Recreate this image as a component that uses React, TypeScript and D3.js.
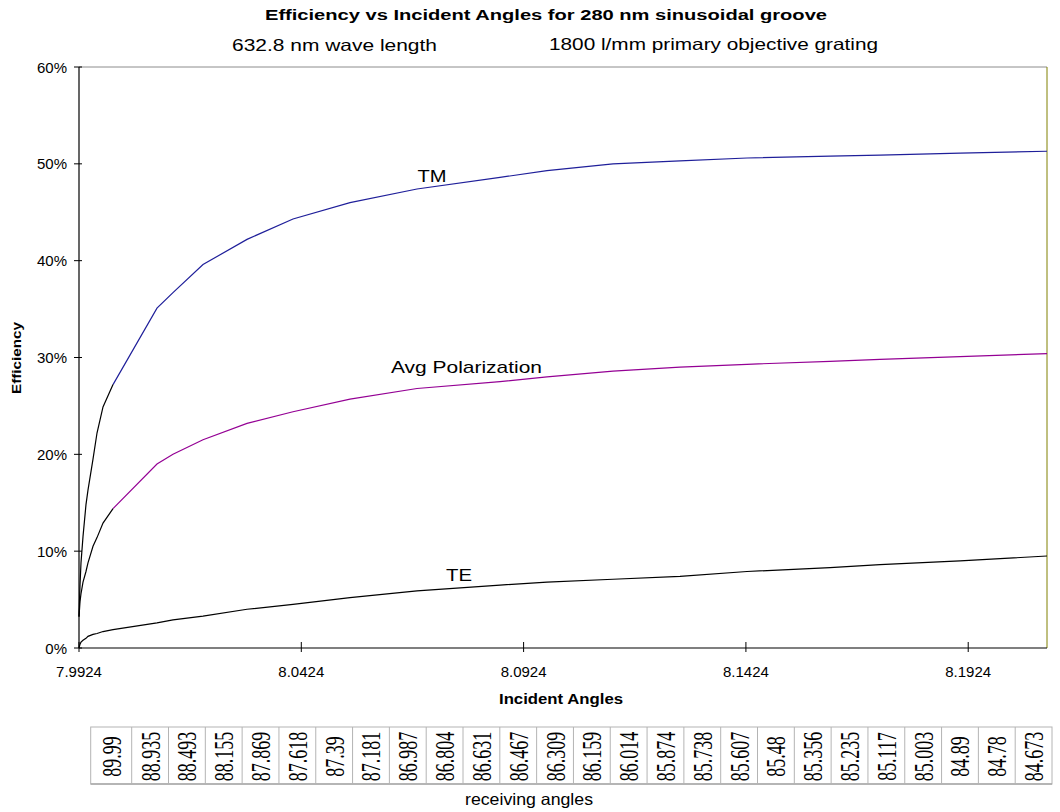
import React from "react";
import * as d3 from "d3";

// Incident angles (x) at which the curves were sampled
const incidentAngles = [
  7.9924, 7.99263, 7.99285, 7.9933, 7.99397, 7.99442, 7.99555, 7.99645, 7.9978,
  8.00005, 8.00994, 8.01354, 8.02029, 8.03019, 8.04053, 8.05335, 8.06842,
  8.08709, 8.09766, 8.11251, 8.12758, 8.14265, 8.16132, 8.17256, 8.19056, 8.21012,
];
// Efficiency values in percent
const tmValues = [
  3.3, 6.5, 8.8, 11.5, 14.8, 16.3, 19.5, 22.2, 24.9, 27.2, 35.1, 36.7, 39.6,
  42.2, 44.3, 46.0, 47.4, 48.6, 49.3, 50.0, 50.3, 50.6, 50.8, 50.9, 51.1, 51.3,
];
const avgValues = [
  3.2, 4.8, 5.6, 6.8, 7.9, 8.8, 10.5, 11.4, 12.9, 14.4, 19.0, 20.0, 21.5, 23.2,
  24.4, 25.7, 26.8, 27.5, 28.0, 28.6, 29.0, 29.3, 29.6, 29.8, 30.1, 30.4,
];
const teValues = [
  0, 0.4, 0.6, 0.8, 1.0, 1.2, 1.4, 1.5, 1.7, 1.9, 2.6, 2.9, 3.3, 4.0, 4.5, 5.2,
  5.9, 6.5, 6.8, 7.1, 7.4, 7.9, 8.3, 8.6, 9.0, 9.5,
];
// number of leading points drawn in black for TM / Avg
const blackLeadCount = 10;

const xTickValues = [7.9924, 8.0424, 8.0924, 8.1424, 8.1924];
const yTickValues = [0, 10, 20, 30, 40, 50, 60];

const receivingAngles = [
  "89.99", "88.935", "88.493", "88.155", "87.869", "87.618", "87.39", "87.181",
  "86.987", "86.804", "86.631", "86.467", "86.309", "86.159", "86.014", "85.874",
  "85.738", "85.607", "85.48", "85.356", "85.235", "85.117", "85.003", "84.89",
  "84.78", "84.673",
];

const titleText = "Efficiency vs Incident Angles for 280 nm sinusoidal groove";
const subtitleLeft = "632.8 nm wave length";
const subtitleRight = "1800 l/mm primary objective grating";

const W = 1060;
const H = 812;
const plot = { left: 79, right: 1047, top: 67, bottom: 648 };

const TM_COLOR = "#1f1f9a";
const AVG_COLOR = "#940094";

export default function App() {
  const x = d3
    .scaleLinear()
    .domain([incidentAngles[0], incidentAngles[incidentAngles.length - 1]])
    .range([plot.left, plot.right]);
  const y = d3.scaleLinear().domain([0, 60]).range([plot.bottom, plot.top]);

  const seg = (vals: number[], from: number, to: number) => {
    const idx = d3.range(from, to);
    return d3
      .line<number>()
      .x((i) => x(incidentAngles[i]))
      .y((i) => y(vals[i]))(idx) as string;
  };

  const fmtX = d3.format(".4f");
  const font = "'Liberation Sans', Arial, sans-serif";

  // table geometry
  const tableLeft = 90.7;
  const firstColW = 41;
  const tableRight = 1052;
  const tableTop = 727;
  const tableBottom = 784;
  const colW = (tableRight - tableLeft - firstColW) / (receivingAngles.length - 1);
  const colEdges = [tableLeft, ...receivingAngles.map((_, i) => tableLeft + firstColW + i * colW)];
  const colCenter = (i: number) => (colEdges[i] + colEdges[i + 1]) / 2;

  return (
    <svg
      width={W}
      height={H}
      style={{ position: "absolute", left: 0, top: 0, background: "#fff" }}
      fontFamily={font}
    >
      <rect x={0} y={0} width={W} height={H} fill="#fff" />
      {/* titles */}
      <text x={546} y={20} fontSize={14} fontWeight="bold" textAnchor="middle" textLength={562} lengthAdjust="spacingAndGlyphs">
        {titleText}
      </text>
      <text x={334.5} y={51} fontSize={16.5} textAnchor="middle" textLength={205} lengthAdjust="spacingAndGlyphs">
        {subtitleLeft}
      </text>
      <text x={713.5} y={50} fontSize={16.5} textAnchor="middle" textLength={329} lengthAdjust="spacingAndGlyphs">
        {subtitleRight}
      </text>

      {/* plot frame */}
      <line x1={plot.left} x2={plot.right} y1={plot.top} y2={plot.top} stroke="#8c8c8c" strokeWidth={1} />
      <line x1={plot.right} x2={plot.right} y1={plot.top} y2={plot.bottom} stroke="#808000" strokeWidth={1} />

      {/* curves */}
      <path d={seg(teValues, 0, teValues.length)} fill="none" stroke="#000" strokeWidth={1.2} />
      <path d={seg(avgValues, blackLeadCount - 1, avgValues.length)} fill="none" stroke={AVG_COLOR} strokeWidth={1.2} />
      <path d={seg(avgValues, 0, blackLeadCount)} fill="none" stroke="#000" strokeWidth={1.2} />
      <path d={seg(tmValues, blackLeadCount - 1, tmValues.length)} fill="none" stroke={TM_COLOR} strokeWidth={1.2} />
      <path d={seg(tmValues, 0, blackLeadCount)} fill="none" stroke="#000" strokeWidth={1.2} />

      {/* axes */}
      <line x1={plot.left} x2={plot.left} y1={plot.top} y2={plot.bottom} stroke="#000" strokeWidth={1.2} />
      <line x1={plot.left} x2={plot.right} y1={plot.bottom} y2={plot.bottom} stroke="#000" strokeWidth={1.2} />
      {yTickValues.map((v) => (
        <g key={"y" + v}>
          <line x1={plot.left - 5} x2={plot.left + 3} y1={y(v)} y2={y(v)} stroke="#000" strokeWidth={1} />
          <text x={67} y={y(v) + 5.5} fontSize={15} textAnchor="end" fill="#000">
            {v + "%"}
          </text>
        </g>
      ))}
      {xTickValues.map((v) => (
        <g key={"x" + v}>
          <line x1={x(v)} x2={x(v)} y1={plot.bottom - 6} y2={plot.bottom + 4} stroke="#000" strokeWidth={1} />
          <text x={x(v)} y={677} fontSize={15} textAnchor="middle" fill="#000">
            {fmtX(v)}
          </text>
        </g>
      ))}
      <text
        transform="translate(21,358) rotate(-90)"
        fontSize={13}
        fontWeight="bold"
        textAnchor="middle"
        textLength={72}
        lengthAdjust="spacingAndGlyphs"
      >
        Efficiency
      </text>
      <text x={561} y={704} fontSize={14} fontWeight="bold" textAnchor="middle" textLength={124} lengthAdjust="spacingAndGlyphs">
        Incident Angles
      </text>

      {/* series labels */}
      <text x={432} y={182} fontSize={17} textAnchor="middle" textLength={29} lengthAdjust="spacingAndGlyphs">TM</text>
      <text x={466.5} y={373} fontSize={17} textAnchor="middle" textLength={151} lengthAdjust="spacingAndGlyphs">Avg Polarization</text>
      <text x={459} y={581} fontSize={17} textAnchor="middle" textLength={26} lengthAdjust="spacingAndGlyphs">TE</text>

      {/* receiving angles table */}
      <rect x={tableLeft} y={tableTop} width={tableRight - tableLeft} height={tableBottom - tableTop} fill="none" stroke="#b4b4b4" strokeWidth={1} />
      <line x1={tableLeft} x2={tableRight} y1={tableBottom} y2={tableBottom} stroke="#a8a8a8" strokeWidth={1.5} />
      {colEdges.slice(1, -1).map((ex, i) => (
        <line key={"c" + i} x1={ex} x2={ex} y1={tableTop} y2={tableBottom} stroke="#b4b4b4" strokeWidth={1} />
      ))}
      {receivingAngles.map((t, i) => (
        <text
          key={"r" + i}
          transform={`translate(${colCenter(i) + 9.5},${(tableTop + tableBottom) / 2 + 1}) rotate(-90) scale(0.64,1)`}
          fontFamily="'Liberation Serif', 'Times New Roman', serif"
          fontSize={28}
          textAnchor="middle"
          fill="#000"
        >
          {t}
        </text>
      ))}
      <text x={529} y={805} fontSize={16.5} textAnchor="middle" textLength={128} lengthAdjust="spacingAndGlyphs">
        receiving angles
      </text>
    </svg>
  );
}
